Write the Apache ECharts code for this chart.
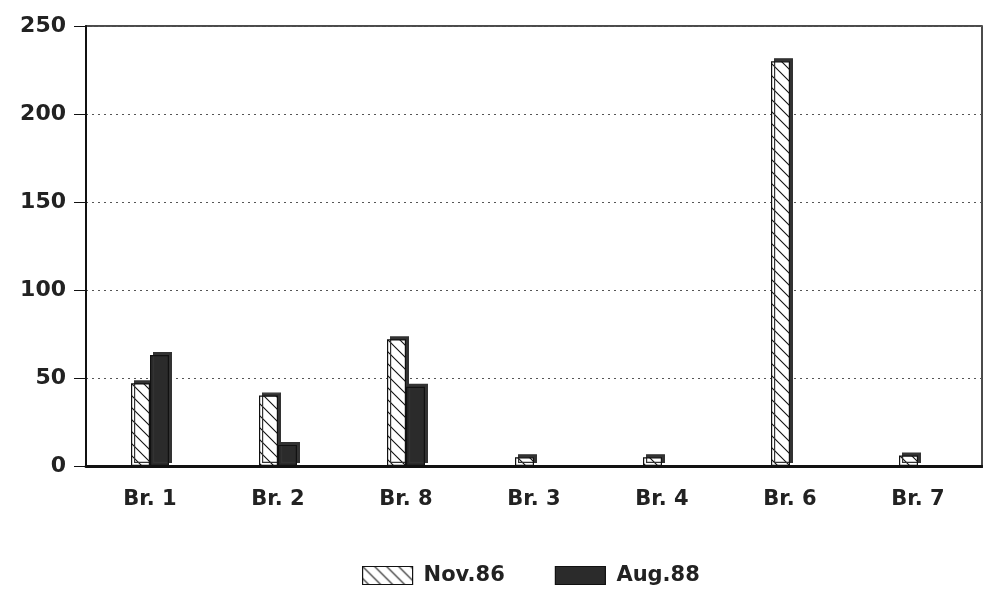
<!DOCTYPE html>
<html>
<head>
<meta charset="utf-8">
<script src="https://cdn.jsdelivr.net/npm/echarts@6/dist/echarts.min.js"></script>
<style>html,body{margin:0;padding:0;background:#fff}#c{width:983px;height:589px}</style>
</head>
<body>
<div id="c"></div>
<script>
const categories = ['Br. 1', 'Br. 2', 'Br. 8', 'Br. 3', 'Br. 4', 'Br. 6', 'Br. 7'];
const nov86 = [47, 40, 72, 5, 5, 230, 6];
const aug88 = [63, 12, 45, 0, 0, 0, 0];
const yTicks = [0, 50, 100, 150, 200, 250];

function hatch() {
  const s = 12;
  const cv = document.createElement('canvas');
  cv.width = s; cv.height = s;
  const g = cv.getContext('2d');
  g.fillStyle = '#fff'; g.fillRect(0, 0, s, s);
  g.strokeStyle = '#111'; g.lineWidth = 1.1;
  g.beginPath();
  g.moveTo(0, 0); g.lineTo(s, s);
  g.moveTo(-s, 0); g.lineTo(s, 2 * s);
  g.moveTo(0, -s); g.lineTo(2 * s, s);
  g.stroke();
  return cv;
}

const hideZero = v => (v === 0 ? '-' : v);

const chart = echarts.init(document.getElementById('c'), null, {renderer: 'canvas'});
const font = '"DejaVu Sans", "Liberation Sans", Arial, sans-serif';
chart.setOption({
  animation: false,
  backgroundColor: '#fff',
  grid: {left: 86, right: 1, top: 26, bottom: 123, show: true, borderColor: '#111', borderWidth: 1.5},
  legend: {
    left: 357, top: 560, itemWidth: 50, itemHeight: 18, itemGap: 50, icon: 'rect',
    textStyle: {fontFamily: font, fontSize: 21, color: '#222', fontWeight: 'bold', padding: [0, 0, 0, 6]},
    itemStyle: {borderColor: '#111', borderWidth: 1.2},
    data: ['Nov.86', 'Aug.88']
  },
  xAxis: {
    type: 'category', data: categories,
    axisLine: {lineStyle: {color: '#111', width: 3}},
    axisTick: {alignWithLabel: true, length: 11, lineStyle: {color: '#111'}},
    axisLabel: {fontFamily: font, fontSize: 21, fontWeight: 'bold', color: '#222', margin: 23}
  },
  yAxis: {
    type: 'value', min: yTicks[0], max: yTicks[yTicks.length - 1], interval: 50,
    axisLine: {show: true, lineStyle: {color: '#111', width: 2}},
    axisTick: {show: true, length: 12, lineStyle: {color: '#111'}},
    axisLabel: {fontFamily: font, fontSize: 22, fontWeight: 'bold', color: '#222', margin: 20},
    splitLine: {show: true, lineStyle: {color: '#555', type: [2, 4], width: 1}}
  },
  series: [
    {
      name: 'Nov.86', type: 'bar', data: nov86.map(hideZero), barWidth: 19, barGap: '0%',
      itemStyle: {color: {image: hatch(), repeat: 'repeat'}, borderColor: '#111', borderWidth: 1.2,
        shadowColor: '#333', shadowOffsetX: 3, shadowOffsetY: -3, shadowBlur: 0}
    },
    {
      name: 'Aug.88', type: 'bar', data: aug88.map(hideZero), barWidth: 19,
      itemStyle: {color: '#2b2b2b', borderColor: '#111', borderWidth: 1.2,
        shadowColor: '#333', shadowOffsetX: 3, shadowOffsetY: -3, shadowBlur: 0}
    }
  ]
});
</script>
</body>
</html>
